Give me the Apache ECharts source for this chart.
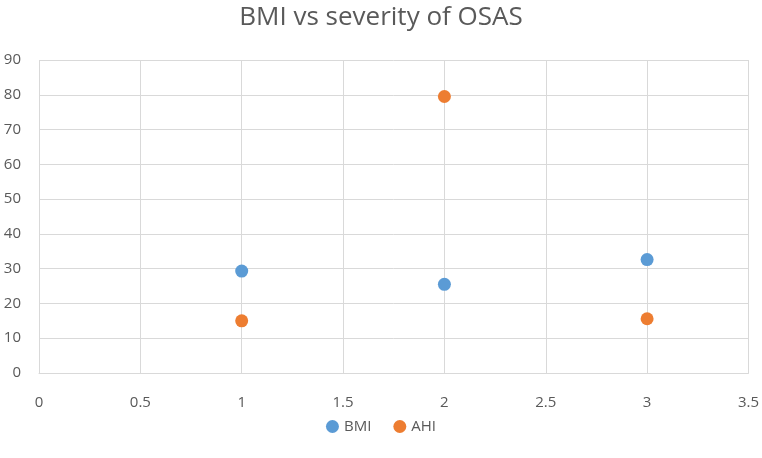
<!DOCTYPE html>
<html>
<head>
<meta charset="utf-8">
<script src="https://cdn.jsdelivr.net/npm/echarts@6/dist/echarts.min.js"></script>
<style>
html, body { margin: 0; padding: 0; background: #fff; }
#main { width: 762px; height: 458px; }
</style>
</head>
<body>
<div id="main"></div>
<script>
var xValues = [1, 2, 3];
var bmiValues = [29.3, 25.5, 32.6];
var ahiValues = [15.0, 79.5, 15.6];
var seriesNames = ['BMI', 'AHI'];

function pairs(xs, ys) {
    var out = [];
    for (var i = 0; i < xs.length; i++) {
        out.push([xs[i], ys[i]]);
    }
    return out;
}

var chart = echarts.init(document.getElementById('main'));
var textColor = '#595959';
var gridColor = '#d9d9d9';
var font = 'Open Sans';

var option = {
    backgroundColor: '#fff',
    title: {
        text: 'BMI vs severity of OSAS',
        left: 'center',
        top: 0,
        textStyle: { color: textColor, fontSize: 26, fontWeight: 'normal', fontFamily: font }
    },
    legend: {
        data: seriesNames,
        bottom: 19,
        left: 'center',
        icon: 'circle',
        itemWidth: 13,
        itemHeight: 13,
        itemGap: 22,
        textStyle: { color: textColor, fontSize: 15, fontFamily: font }
    },
    grid: { left: 39, right: 11, top: 60, bottom: 85 },
    xAxis: {
        type: 'value',
        min: 0,
        max: 3.5,
        interval: 0.5,
        axisLine: { lineStyle: { color: gridColor } },
        axisTick: { show: false },
        axisLabel: { color: textColor, fontSize: 15, fontFamily: font, margin: 22 },
        splitLine: { lineStyle: { color: gridColor, width: 1 } }
    },
    yAxis: {
        type: 'value',
        min: 0,
        max: 90,
        interval: 10,
        axisLine: { show: false },
        axisTick: { show: false },
        axisLabel: { color: textColor, fontSize: 15, fontFamily: font, margin: 18 },
        splitLine: { lineStyle: { color: gridColor, width: 1 } }
    },
    series: [
        {
            name: seriesNames[0],
            type: 'scatter',
            symbolSize: 13,
            itemStyle: { color: '#5b9bd5', opacity: 1 },
            data: pairs(xValues, bmiValues)
        },
        {
            name: seriesNames[1],
            type: 'scatter',
            symbolSize: 13,
            itemStyle: { color: '#ed7d31', opacity: 1 },
            data: pairs(xValues, ahiValues)
        }
    ]
};

chart.setOption(option);
</script>
</body>
</html>
